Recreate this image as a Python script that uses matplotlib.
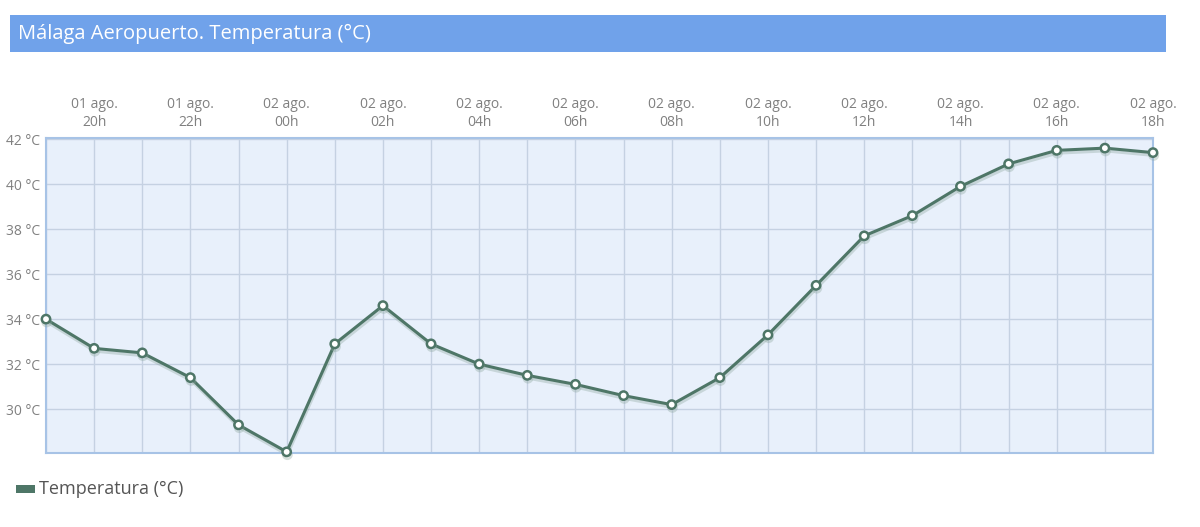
import matplotlib.pyplot as plt
from matplotlib.patches import Rectangle
import matplotlib.patheffects as pe

hours = ['19h', '20h', '21h', '22h', '23h', '00h', '01h', '02h', '03h', '04h', '05h', '06h',
         '07h', '08h', '09h', '10h', '11h', '12h', '13h', '14h', '15h', '16h', '17h', '18h']
days = ['01 ago.'] * 5 + ['02 ago.'] * 19
temps = [34.0, 32.7, 32.5, 31.4, 29.3, 28.1, 32.9, 34.6, 32.9, 32.0, 31.5, 31.1,
         30.6, 30.2, 31.4, 33.3, 35.5, 37.7, 38.6, 39.9, 40.9, 41.5, 41.6, 41.4]
y_ticks = [30, 32, 34, 36, 38, 40, 42]

line_color = '#4e7667'
plt.rcParams['font.family'] = ['Open Sans', 'DejaVu Sans']

fig = plt.figure(figsize=(12, 5.27), dpi=100)

# title bar
fig.patches.append(Rectangle((10 / 1200, 1 - 52 / 527), 1156 / 1200, 37 / 527,
                             transform=fig.transFigure, facecolor='#70a2ea', edgecolor='none'))
fig.text(18 / 1200, 1 - 34 / 527, 'Málaga Aeropuerto. Temperatura (°C)', color='white',
         fontsize=14.5, va='center', ha='left')

ax = fig.add_axes([46 / 1200, 1 - 453 / 527, 1107 / 1200, 315 / 527])
ax.set_facecolor('#e8f0fb')
x = list(range(len(temps)))

ax.plot(x, temps, color=line_color, lw=2.2, marker='o', ms=6, mfc='white', mec=line_color,
        mew=1.8, clip_on=False, zorder=5,
        path_effects=[pe.SimpleLineShadow(offset=(0.5, -2), shadow_color='#8aa59b', alpha=0.35),
                      pe.Normal()])

ax.set_xlim(0, len(temps) - 1)
ax.set_ylim(28.05, 42.05)
ax.set_xticks(x, minor=False)
ax.set_yticks(y_ticks)
ax.grid(True, color='#c5d1e2', lw=1)
ax.set_axisbelow(True)

ax.set_xticklabels([f'{d}\n{h}' if i % 2 == 1 else '' for i, (d, h) in enumerate(zip(days, hours))])
ax.xaxis.tick_top()
ax.tick_params(axis='x', length=0, pad=6, labelsize=10, colors='#808080')
ax.tick_params(axis='y', length=0, pad=4, labelsize=10, colors='#808080')
ax.set_yticklabels([f'{t} °C' for t in y_ticks])

for s in ax.spines.values():
    s.set_color('#a7c3e6')
    s.set_linewidth(1.5)

# legend
fig.patches.append(Rectangle((16 / 1200, 1 - 493 / 527), 19 / 1200, 8 / 527,
                             transform=fig.transFigure, facecolor=line_color, edgecolor='none'))
fig.text(39 / 1200, 1 - 489 / 527, 'Temperatura (°C)', color='#555555', fontsize=13,
         va='center', ha='left')

fig.savefig('out.png', dpi=100, facecolor='white')
